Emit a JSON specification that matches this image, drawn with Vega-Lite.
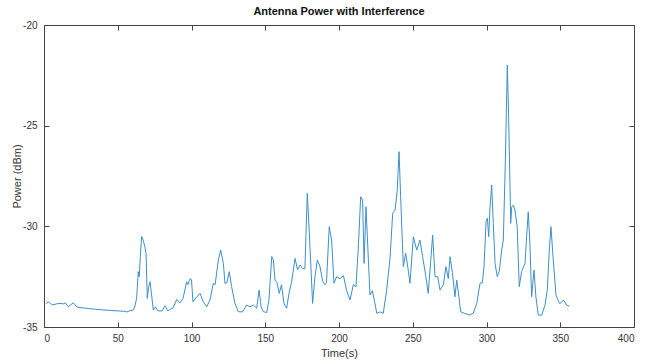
{
  "$schema": "https://vega.github.io/schema/vega-lite/v6.json",
  "width": 590,
  "height": 302,
  "autosize": "none",
  "padding": {"left": 44, "top": 25, "right": 13, "bottom": 37},
  "background": "white",
  "title": {"text": "Antenna Power with Interference", "font": "Liberation Sans", "fontSize": 11, "fontWeight": "bold", "color": "#111", "offset": 3},
  "config": {
    "locale": {"number": {"decimal": ".", "thousands": ",", "grouping": [3], "currency": ["$", ""], "minus": "-"}},
    "view": {"stroke": "#444", "strokeWidth": 1},
    "axis": {"domainColor": "#444", "tickColor": "#444", "tickSize": -5, "grid": false, "labelFont": "Liberation Sans", "labelFontSize": 10, "labelColor": "#333", "titleFont": "Liberation Sans", "titleFontSize": 11, "titleFontWeight": "normal", "titleColor": "#333"}
  },
  "data": {"values": [
    {"t":1.5,"p":-33.85},{"t":2.9,"p":-33.75},{"t":4.5,"p":-33.85},{"t":6.3,"p":-33.9},{"t":8.5,"p":-33.85},{"t":10.8,"p":-33.83},{"t":13,"p":-33.85},{"t":14.5,"p":-33.8},{"t":16.5,"p":-34.0},{"t":18,"p":-33.9},{"t":19.9,"p":-33.8},{"t":22.2,"p":-34.0},{"t":26,"p":-34.05},{"t":30,"p":-34.08},{"t":35,"p":-34.12},{"t":40,"p":-34.15},{"t":45,"p":-34.18},{"t":50,"p":-34.2},{"t":54,"p":-34.22},{"t":56.1,"p":-34.25},{"t":58,"p":-34.2},{"t":60.5,"p":-34.16},{"t":61.5,"p":-34.0},{"t":62.8,"p":-33.58},{"t":63.9,"p":-32.25},{"t":64.6,"p":-32.5},{"t":65.3,"p":-31.5},{"t":66.2,"p":-30.5},{"t":67.3,"p":-30.7},{"t":68.3,"p":-31.0},{"t":69.2,"p":-31.34},{"t":70.0,"p":-33.58},{"t":71.0,"p":-33.0},{"t":71.9,"p":-32.75},{"t":72.8,"p":-33.3},{"t":74.1,"p":-34.16},{"t":75.5,"p":-34.0},{"t":77.3,"p":-34.2},{"t":80,"p":-34.2},{"t":82,"p":-33.95},{"t":84,"p":-34.2},{"t":86,"p":-34.1},{"t":87.5,"p":-34.05},{"t":90,"p":-33.63},{"t":91,"p":-33.7},{"t":92.2,"p":-33.8},{"t":94.2,"p":-33.6},{"t":96.7,"p":-32.75},{"t":97.5,"p":-32.9},{"t":99,"p":-32.6},{"t":100,"p":-32.65},{"t":101,"p":-33.75},{"t":103,"p":-33.55},{"t":105.8,"p":-33.33},{"t":108,"p":-33.75},{"t":110.3,"p":-34.0},{"t":112.5,"p":-33.66},{"t":114.8,"p":-32.83},{"t":116,"p":-32.9},{"t":118.2,"p":-31.67},{"t":119.8,"p":-31.18},{"t":121.6,"p":-31.84},{"t":122.7,"p":-32.83},{"t":124,"p":-32.8},{"t":125.6,"p":-32.25},{"t":127.2,"p":-33.0},{"t":129.5,"p":-33.83},{"t":131.7,"p":-34.24},{"t":134.5,"p":-34.25},{"t":137.4,"p":-33.91},{"t":139.6,"p":-34.0},{"t":141.9,"p":-33.91},{"t":144.2,"p":-34.07},{"t":145.8,"p":-33.16},{"t":147.2,"p":-34.0},{"t":148.7,"p":-34.24},{"t":151,"p":-34.28},{"t":152.5,"p":-33.66},{"t":154.4,"p":-31.5},{"t":155.5,"p":-31.67},{"t":156.6,"p":-32.67},{"t":158,"p":-32.8},{"t":159.5,"p":-33.33},{"t":161,"p":-32.9},{"t":162.7,"p":-33.83},{"t":164.5,"p":-34.07},{"t":166.1,"p":-33.33},{"t":167.9,"p":-32.75},{"t":170.2,"p":-31.59},{"t":171.9,"p":-32.16},{"t":173.6,"p":-31.92},{"t":175.3,"p":-32.1},{"t":176.9,"p":-32.1},{"t":178.5,"p":-28.36},{"t":179.9,"p":-30.35},{"t":182.1,"p":-33.83},{"t":183.7,"p":-32.5},{"t":185.3,"p":-31.67},{"t":187.1,"p":-32.0},{"t":189,"p":-32.75},{"t":190.4,"p":-32.9},{"t":191.5,"p":-32.8},{"t":193.4,"p":-30.02},{"t":195,"p":-30.68},{"t":196.6,"p":-32.83},{"t":198.4,"p":-32.5},{"t":200.7,"p":-32.6},{"t":203,"p":-32.45},{"t":205.2,"p":-33.2},{"t":207.5,"p":-33.66},{"t":209.7,"p":-32.9},{"t":211.5,"p":-33.0},{"t":213,"p":-31.18},{"t":214.7,"p":-28.53},{"t":216,"p":-28.7},{"t":217,"p":-31.84},{"t":218.3,"p":-29.03},{"t":219.2,"p":-30.5},{"t":221,"p":-33.41},{"t":222.6,"p":-33.2},{"t":224.4,"p":-33.83},{"t":225.6,"p":-34.32},{"t":228,"p":-34.25},{"t":230,"p":-34.32},{"t":232.3,"p":-33.16},{"t":234.6,"p":-31.59},{"t":236.4,"p":-29.35},{"t":238,"p":-29.2},{"t":239.5,"p":-28.2},{"t":240.7,"p":-26.29},{"t":241.8,"p":-28.53},{"t":243.6,"p":-32.0},{"t":245.2,"p":-31.34},{"t":247,"p":-32.2},{"t":248.1,"p":-32.83},{"t":250.4,"p":-30.52},{"t":252.7,"p":-31.18},{"t":254.9,"p":-30.68},{"t":256.7,"p":-31.51},{"t":258.9,"p":-32.5},{"t":260.5,"p":-33.33},{"t":262.1,"p":-31.8},{"t":263.5,"p":-30.43},{"t":265.1,"p":-32.5},{"t":266.9,"p":-32.5},{"t":268.5,"p":-33.16},{"t":270.8,"p":-32.9},{"t":272.5,"p":-32.0},{"t":274.1,"p":-32.6},{"t":275.3,"p":-31.51},{"t":276.9,"p":-32.3},{"t":278.6,"p":-33.5},{"t":279.8,"p":-32.67},{"t":281.3,"p":-33.5},{"t":282.5,"p":-34.24},{"t":285,"p":-34.32},{"t":288.8,"p":-34.41},{"t":291.1,"p":-34.3},{"t":293.4,"p":-33.83},{"t":295.6,"p":-32.83},{"t":297.2,"p":-32.8},{"t":298.3,"p":-32.0},{"t":299.7,"p":-29.77},{"t":300.6,"p":-29.6},{"t":301.5,"p":-30.52},{"t":302.4,"p":-29.03},{"t":303.5,"p":-27.95},{"t":304.6,"p":-29.85},{"t":305.8,"p":-31.84},{"t":307.3,"p":-32.5},{"t":308.7,"p":-32.2},{"t":310.3,"p":-31.18},{"t":311.4,"p":-30.68},{"t":312.8,"p":-26.71},{"t":314.1,"p":-21.99},{"t":315,"p":-24.55},{"t":315.9,"p":-27.86},{"t":316.4,"p":-29.85},{"t":317.1,"p":-29.03},{"t":318.2,"p":-28.95},{"t":319.3,"p":-29.19},{"t":320.8,"p":-30.0},{"t":322.2,"p":-33.0},{"t":323.8,"p":-32.25},{"t":326.1,"p":-31.84},{"t":327.2,"p":-30.52},{"t":328.3,"p":-29.28},{"t":329.4,"p":-30.8},{"t":330.6,"p":-33.5},{"t":332.2,"p":-32.17},{"t":333.5,"p":-33.5},{"t":335.1,"p":-34.41},{"t":337.4,"p":-34.41},{"t":339.7,"p":-33.91},{"t":341.2,"p":-33.16},{"t":342.5,"p":-31.3},{"t":343.7,"p":-30.02},{"t":345.2,"p":-31.6},{"t":347.1,"p":-33.41},{"t":349.4,"p":-33.83},{"t":350.5,"p":-33.8},{"t":352.1,"p":-33.66},{"t":354.4,"p":-33.91},{"t":356.1,"p":-33.96}
  ]},
  "layer": [
    {
      "mark": {"type": "line", "color": "#3d8fcc", "strokeWidth": 1, "interpolate": "linear"},
      "encoding": {
        "x": {"field": "t", "type": "quantitative", "scale": {"domain": [0, 400], "nice": false, "zero": false}, "axis": {"orient": "bottom", "title": "Time(s)", "values": [0,50,100,150,200,250,300,350,400], "labelPadding": 11, "titlePadding": 4}},
        "y": {"field": "p", "type": "quantitative", "scale": {"domain": [-35, -20], "nice": false, "zero": false}, "axis": {"orient": "left", "title": "Power (dBm)", "values": [-35,-30,-25,-20], "labelPadding": 12, "titlePadding": 0}}
      }
    },
    {
      "mark": {"type": "line", "opacity": 0},
      "encoding": {
        "x": {"field": "t", "type": "quantitative", "axis": {"orient": "top", "title": null, "labels": false, "values": [0,50,100,150,200,250,300,350,400]}},
        "y": {"field": "p", "type": "quantitative", "axis": {"orient": "right", "title": null, "labels": false, "values": [-35,-30,-25,-20]}}
      }
    }
  ],
  "resolve": {"axis": {"x": "independent", "y": "independent"}}
}
